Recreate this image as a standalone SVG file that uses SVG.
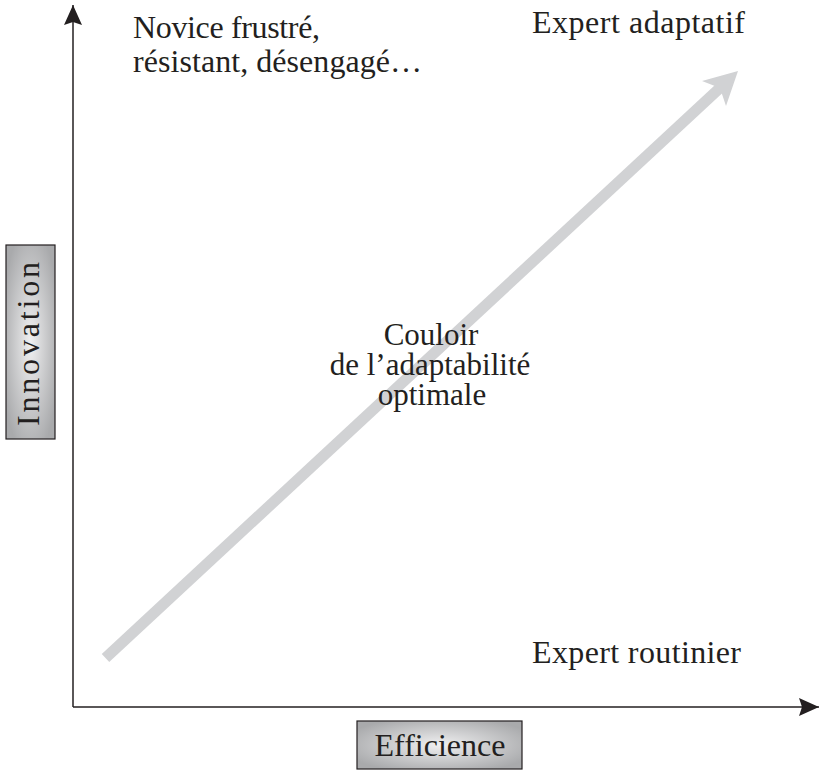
<svg xmlns="http://www.w3.org/2000/svg" width="819" height="771" viewBox="0 0 819 771">
<style>
.t{font-family:"Liberation Serif","Times New Roman",serif;fill:#231f20;font-size:32px}
.c{font-size:31px;text-anchor:middle}
.ax{stroke:#231f20;stroke-width:1.5;fill:none}
.box{stroke:#231f20;stroke-width:1.2}
</style>
<defs>
<radialGradient id="g" cx="0.5" cy="0.5" r="0.6">
<stop offset="0" stop-color="#f0f0f1"/>
<stop offset="1" stop-color="#a9aaac"/>
</radialGradient>
<marker id="ah" markerWidth="20" markerHeight="18" refX="20" refY="9" orient="auto" markerUnits="userSpaceOnUse">
<path d="M0,0 L20,9 L0,18 L3,9 Z" fill="#231f20"/>
</marker>
</defs>
<rect width="819" height="771" fill="#fff"/>
<g id="connectors">
<line class="ax" x1="73" y1="707" x2="73" y2="5" marker-end="url(#ah)"/>
<line class="ax" x1="73" y1="707" x2="819" y2="707" marker-end="url(#ah)"/>
<g id="corridor-arrow" fill="#d1d2d4">
<line x1="105.5" y1="658" x2="722" y2="86" stroke="#d1d2d4" stroke-width="11"/>
<polygon points="738,71 702,81 720,88 726,106"/>
</g>
</g>
<g id="axis-y-label">
<rect class="box" x="6" y="245" width="49" height="194" fill="url(#g)"/>
<text class="t" font-size="36" transform="translate(38.5,344) rotate(-90)" text-anchor="middle" textLength="164">Innovation</text>
</g>
<g id="axis-x-label">
<rect class="box" x="357" y="721" width="165" height="48" fill="url(#g)"/>
<text class="t" font-size="30" x="440" y="756" text-anchor="middle">Efficience</text>
</g>
<g id="novice">
<text class="t" x="133" y="38" textLength="187">Novice frustré,</text>
<text class="t" x="133" y="72" textLength="289">résistant, désengagé…</text>
</g>
<g id="expert-adaptatif">
<text class="t" x="532" y="33" textLength="213">Expert adaptatif</text>
</g>
<g id="expert-routinier">
<text class="t" x="532" y="663" textLength="209">Expert routinier</text>
</g>
<g id="couloir">
<text class="t c" x="431" y="345">Couloir</text>
<text class="t c" x="430" y="375">de l’adaptabilité</text>
<text class="t c" x="432" y="405">optimale</text>
</g>
</svg>
